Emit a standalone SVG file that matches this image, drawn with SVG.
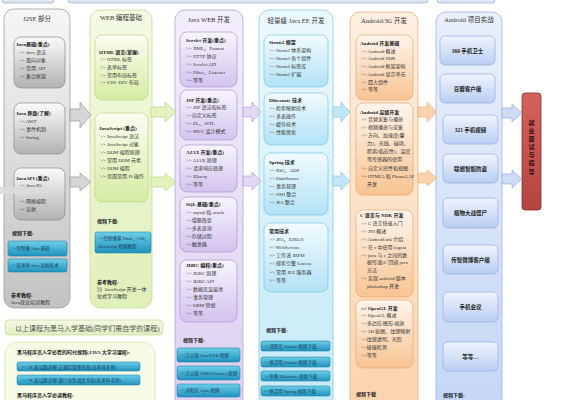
<svg xmlns="http://www.w3.org/2000/svg" width="572" height="400" viewBox="0 0 572 400">
<style>
text{font-family:"Liberation Serif","Noto Sans CJK SC",serif;font-size:5px;fill:#333}
.h{font-weight:bold;fill:#1a1a1a}
.ti{font-size:6.5px;fill:#333;text-anchor:middle}
.bt{font-size:4.6px;fill:#163a58}
.pj{font-size:5.5px;font-weight:bold;fill:#222;text-anchor:middle}
.o{stroke-width:0.8}
.i{stroke-width:0.7}
.btn{fill:url(#gBtn);stroke:#2a7fa8;stroke-width:0.6}
.ar{stroke-width:0.7}
</style>
<defs>
<linearGradient id="gGray" x1="0" y1="0" x2="0" y2="1"><stop offset="0" stop-color="#f6f6f6"/><stop offset="1" stop-color="#c2c2c2"/></linearGradient>
<linearGradient id="gGrayIn" x1="0" y1="0" x2="0" y2="1"><stop offset="0" stop-color="#fbfbfb"/><stop offset="1" stop-color="#b2b2b2"/></linearGradient>
<linearGradient id="gGreen" x1="0" y1="0" x2="0" y2="1"><stop offset="0" stop-color="#f4fae4"/><stop offset="1" stop-color="#e0f0ba"/></linearGradient>
<linearGradient id="gGreenIn" x1="0" y1="0" x2="0" y2="1"><stop offset="0" stop-color="#fbfdf1"/><stop offset="1" stop-color="#d6eca4"/></linearGradient>
<linearGradient id="gPurple" x1="0" y1="0" x2="0" y2="1"><stop offset="0" stop-color="#f3eefb"/><stop offset="1" stop-color="#dcd0f0"/></linearGradient>
<linearGradient id="gPurpleIn" x1="0" y1="0" x2="0" y2="1"><stop offset="0" stop-color="#f8f5fd"/><stop offset="1" stop-color="#d2c3ee"/></linearGradient>
<linearGradient id="gCyan" x1="0" y1="0" x2="0" y2="1"><stop offset="0" stop-color="#ecf9fd"/><stop offset="1" stop-color="#c4eaf8"/></linearGradient>
<linearGradient id="gCyanIn" x1="0" y1="0" x2="0" y2="1"><stop offset="0" stop-color="#f2fbff"/><stop offset="1" stop-color="#b2e2f5"/></linearGradient>
<linearGradient id="gOrange" x1="0" y1="0" x2="0" y2="1"><stop offset="0" stop-color="#fdefe0"/><stop offset="1" stop-color="#fbd3aa"/></linearGradient>
<linearGradient id="gOrangeIn" x1="0" y1="0" x2="0" y2="1"><stop offset="0" stop-color="#fef5ec"/><stop offset="1" stop-color="#f8c492"/></linearGradient>
<linearGradient id="gBlue" x1="0" y1="0" x2="0" y2="1"><stop offset="0" stop-color="#e9f0fc"/><stop offset="1" stop-color="#c3d6f5"/></linearGradient>
<linearGradient id="gBlueIn" x1="0" y1="0" x2="0" y2="1"><stop offset="0" stop-color="#f0f5fd"/><stop offset="1" stop-color="#b9cdf2"/></linearGradient>
<linearGradient id="gBtn" x1="0" y1="0" x2="0" y2="1"><stop offset="0" stop-color="#6ccfea"/><stop offset="1" stop-color="#1f93bd"/></linearGradient>
<linearGradient id="gRed" x1="0" y1="0" x2="0" y2="1"><stop offset="0" stop-color="#d4625c"/><stop offset="1" stop-color="#b4443f"/></linearGradient>
<linearGradient id="gLime" x1="0" y1="0" x2="0" y2="1"><stop offset="0" stop-color="#f4fae4"/><stop offset="1" stop-color="#e0efbe"/></linearGradient>
</defs>

<g id="top-strip">
<rect x="2" y="-8" width="52" height="11" rx="3" fill="#dde7f5" stroke="#8a9bb0" stroke-width="0.6"/>
<rect x="68" y="-8" width="360" height="11" rx="3" fill="#dde7f5" stroke="#8a9bb0" stroke-width="0.6"/>
<rect x="437" y="-8" width="58" height="11" rx="3" fill="#dde7f5" stroke="#8a9bb0" stroke-width="0.6"/>
</g>

<g id="j2se">
<rect class="o" x="4" y="9" width="66" height="299" rx="10" fill="url(#gGray)" stroke="#a0a0a0"/>
<text class="ti" x="37" y="21">J2SE 部分</text>
<rect class="i" x="14" y="37" width="51" height="51" rx="7" fill="url(#gGrayIn)" stroke="#8a8a8a"/>
<text class="h" x="16" y="46">Java基础(重点)</text>
<text x="19" y="54">&gt;&gt; Java 语法</text>
<text x="19" y="62">&gt;&gt; 面向对象</text>
<text x="19" y="70">&gt;&gt; 常用 API</text>
<text x="19" y="78">&gt;&gt; 集合框架</text>
<rect class="i" x="14" y="103" width="51" height="51" rx="7" fill="url(#gGrayIn)" stroke="#8a8a8a"/>
<text class="h" x="16" y="115">Java 界面(了解)</text>
<text x="19" y="123">&gt;&gt; AWT</text>
<text x="19" y="131">&gt;&gt; 事件机制</text>
<text x="19" y="139">&gt;&gt; Swing</text>
<rect class="i" x="14" y="168" width="51" height="52" rx="7" fill="url(#gGrayIn)" stroke="#8a8a8a"/>
<text class="h" x="16" y="180">JavaAPI (重点)</text>
<text x="19" y="187">&gt;&gt; Java IO</text>
<text x="19" y="203">&gt;&gt; 网络编程</text>
<text x="19" y="211">&gt;&gt; 反射</text>
<rect x="0" y="187" width="54" height="7" fill="#dcdcdc" opacity="0.9"/>
<text class="h" x="12" y="235">视频下载:</text>
<rect class="btn" x="8" y="241" width="59" height="15" rx="2"/>
<text class="bt" x="11" y="250">&gt;&gt;传智播 Java 基础</text>
<rect class="btn" x="8" y="259" width="59" height="13" rx="2"/>
<text class="bt" x="11" y="267">&gt;&gt;张孝祥 Java 高新技术</text>
<text class="h" x="11" y="297">参考教程:</text>
<text x="11" y="304">Java就业培训教程</text>
</g>

<g id="web">
<rect class="o" x="90" y="10" width="62" height="298" rx="10" fill="url(#gGreen)" stroke="#c6da98"/>
<text class="ti" x="121" y="20">WEB 编程基础</text>
<rect class="i" x="95" y="35" width="53" height="65" rx="7" fill="url(#gGreenIn)" stroke="#bcd68a"/>
<text class="h" x="99" y="54">HTML 语言(掌握)</text>
<text x="100" y="61">&gt;&gt; HTML 标签</text>
<text x="100" y="69">&gt;&gt; 表单标签</text>
<text x="100" y="77">&gt;&gt; 常用布局标签</text>
<text x="100" y="84">&gt;&gt; CSS+DIV 布局</text>
<rect class="i" x="95" y="113" width="53" height="89" rx="7" fill="url(#gGreenIn)" stroke="#bcd68a"/>
<text class="h" x="99" y="130">JavaScript (重点)</text>
<text x="100" y="138">&gt;&gt; JavaScript 语法</text>
<text x="100" y="146">&gt;&gt; JavaScript 对象</text>
<text x="100" y="154">&gt;&gt; DOM 编程原理</text>
<text x="100" y="162">&gt;&gt; 常用 DOM 元素</text>
<text x="100" y="170">&gt;&gt; DOM 编程</text>
<text x="100" y="178">&gt;&gt; 页面常用 JS 操作</text>
<text class="h" x="97" y="223">视频下载:</text>
<rect class="btn" x="95" y="232" width="56" height="21" rx="2"/>
<text class="bt" x="98" y="240">&gt;&gt;传智播客 Html、CSS、</text>
<text class="bt" x="98" y="248">JavaScript 视频教程</text>
<text class="h" x="97" y="284">参考教程:</text>
<text x="97" y="291">》》JavaScript 开发一体</text>
<text x="97" y="298">化式学习教程</text>
</g>

<g id="javaweb">
<rect class="o" x="175" y="10" width="68" height="410" rx="10" fill="url(#gPurple)" stroke="#b6a6d8"/>
<text class="ti" x="209" y="22">Java WEB 开发</text>
<rect class="i" x="180" y="32" width="57" height="55" rx="7" fill="url(#gPurpleIn)" stroke="#a898d0"/>
<text class="h" x="186" y="42">Servlet 开发(重点)</text>
<text x="186" y="50">&gt;&gt; XML、Tomcat</text>
<text x="186" y="58">&gt;&gt; HTTP 协议</text>
<text x="186" y="66">&gt;&gt; Servlet API</text>
<text x="186" y="74">&gt;&gt; Filter、Listener</text>
<text x="186" y="82">&gt;&gt; 等等</text>
<rect class="i" x="180" y="90" width="57" height="50" rx="7" fill="url(#gPurpleIn)" stroke="#a898d0"/>
<text class="h" x="186" y="102">JSP 开发(重点)</text>
<text x="186" y="109">&gt;&gt; JSP 语法和标签</text>
<text x="186" y="117">&gt;&gt;自定义标签</text>
<text x="186" y="125">&gt;&gt; EL、JSTL</text>
<text x="186" y="133">&gt;&gt; MVC 设计模式</text>
<rect class="i" x="180" y="145" width="57" height="47" rx="7" fill="url(#gPurpleIn)" stroke="#a898d0"/>
<text class="h" x="186" y="154">AJAX 开发(重点)</text>
<text x="186" y="162">&gt;&gt; AJAX 原理</text>
<text x="186" y="170">&gt;&gt; 请求响应处理</text>
<text x="186" y="178">&gt;&gt; JQuery</text>
<text x="186" y="186">&gt;&gt; 等等</text>
<rect class="i" x="180" y="197" width="57" height="55" rx="7" fill="url(#gPurpleIn)" stroke="#a898d0"/>
<text class="h" x="186" y="206">SQL 基础(重点)</text>
<text x="186" y="214">&gt;&gt; mysql 和 oracle</text>
<text x="186" y="222">&gt;&gt;增删改查</text>
<text x="186" y="230">&gt;&gt;多表查询</text>
<text x="186" y="238">&gt;&gt;存储过程</text>
<text x="186" y="246">&gt;&gt;触发器</text>
<rect class="i" x="180" y="260" width="57" height="62" rx="7" fill="url(#gPurpleIn)" stroke="#a898d0"/>
<text class="h" x="186" y="267">JDBC 编程(重点)</text>
<text x="186" y="275">&gt;&gt; JDBC 原理</text>
<text x="186" y="283">&gt;&gt; JDBC API</text>
<text x="186" y="291">&gt;&gt; 数据库连接池</text>
<text x="186" y="299">&gt;&gt; 事务管理</text>
<text x="186" y="307">&gt;&gt; ORM 思想</text>
<text x="186" y="315">&gt;&gt; 等等</text>
<text class="h" x="183" y="342">视频下载:</text>
<rect class="btn" x="177" y="348" width="63" height="14" rx="2"/>
<text class="bt" x="180" y="357">&gt;&gt;方立勋 JavaWEB 视频</text>
<rect class="btn" x="177" y="366" width="63" height="14" rx="2"/>
<text class="bt" x="180" y="375">&gt;&gt;方立勋 JDBC(Oracle) 视频</text>
<rect class="btn" x="177" y="384" width="63" height="13" rx="2"/>
<text class="bt" x="180" y="392">&gt;&gt;汤阳光 Ajax 视频</text>
</g>

<g id="javaee">
<rect class="o" x="259" y="10" width="74" height="410" rx="10" fill="url(#gCyan)" stroke="#88cde6"/>
<text class="ti" x="296" y="23">轻量级 Java EE 开发</text>
<rect class="i" x="264" y="35" width="64" height="52" rx="7" fill="url(#gCyanIn)" stroke="#7cc4e2"/>
<text class="h" x="269" y="44">Struts2 框架</text>
<text x="269" y="52">&gt;&gt; Struts2 体系架构</text>
<text x="269" y="60">&gt;&gt; Struts2 各个组件</text>
<text x="269" y="68">&gt;&gt; Struts2 标签库</text>
<text x="269" y="76">&gt;&gt; Struts2 扩展</text>
<rect class="i" x="264" y="93" width="64" height="52" rx="7" fill="url(#gCyanIn)" stroke="#7cc4e2"/>
<text class="h" x="269" y="102">Hibernate 技术</text>
<text x="269" y="110">&gt;&gt; 检索映射技术</text>
<text x="269" y="118">&gt;&gt; 多表操作</text>
<text x="269" y="126">&gt;&gt; 缓存技术</text>
<text x="269" y="134">&gt;&gt; 性能优化</text>
<rect class="i" x="264" y="153" width="64" height="62" rx="7" fill="url(#gCyanIn)" stroke="#7cc4e2"/>
<text class="h" x="269" y="164">Spring 技术</text>
<text x="269" y="172">&gt;&gt; IOC、AOP</text>
<text x="269" y="180">&gt;&gt; DataSource</text>
<text x="269" y="188">&gt;&gt; 事务管理</text>
<text x="269" y="196">&gt;&gt; SSH 整合</text>
<text x="269" y="204">&gt;&gt; JPA 整合</text>
<rect class="i" x="264" y="223" width="64" height="69" rx="7" fill="url(#gCyanIn)" stroke="#7cc4e2"/>
<text class="h" x="269" y="233">常用技术</text>
<text x="269" y="241">&gt;&gt; JPA、EJB3.0</text>
<text x="269" y="249">&gt;&gt; WebService</text>
<text x="269" y="257">&gt;&gt; 工作流 JBPM</text>
<text x="269" y="265">&gt;&gt; 搜索引擎 Lucene</text>
<text x="269" y="274">&gt;&gt; 常用 JEE 服务器</text>
<text x="269" y="282">&gt;&gt; 等等</text>
<text class="h" x="266" y="332">视频下载:</text>
<rect class="btn" x="261" y="341" width="69" height="10" rx="2"/>
<text class="bt" x="264" y="348">&gt;&gt;汤阳光 Struts2 视频下载</text>
<rect class="btn" x="261" y="357" width="69" height="10" rx="2"/>
<text class="bt" x="264" y="364">&gt;&gt;黎活明 Struts2 视频下载</text>
<rect class="btn" x="261" y="371" width="69" height="10" rx="2"/>
<text class="bt" x="264" y="378">&gt;&gt;李勇 Hibernate 视频下载</text>
<rect class="btn" x="261" y="386" width="69" height="10" rx="2"/>
<text class="bt" x="264" y="393">&gt;&gt;黎活明 Spring 视频下载</text>
</g>

<g id="android">
<rect class="o" x="350" y="12" width="68" height="408" rx="10" fill="url(#gOrange)" stroke="#eeb07e"/>
<text class="ti" x="384" y="23">Android/3G 开发</text>
<rect class="i" x="356" y="35" width="57" height="65" rx="7" fill="url(#gOrangeIn)" stroke="#e8a66e"/>
<text class="h" x="360" y="45">Android 开发基础</text>
<text x="361" y="53">&gt;&gt; Android 概述</text>
<text x="361" y="60">&gt;&gt; Android SDK</text>
<text x="361" y="68">&gt;&gt; Android 框架架构</text>
<text x="361" y="76">&gt;&gt; Android 显示单元</text>
<text x="361" y="84">&gt;&gt; 四大组件</text>
<text x="361" y="91">&gt;&gt; 等等</text>
<rect class="i" x="356" y="103" width="57" height="92" rx="7" fill="url(#gOrangeIn)" stroke="#e8a66e"/>
<text class="h" x="360" y="114">Android 高级开发</text>
<text x="361" y="121">&gt;&gt; 音频采集与播放</text>
<text x="361" y="129">&gt;&gt; 视频播放与采集</text>
<text x="361" y="137">&gt;&gt; 方向、加速度(重</text>
<text x="367" y="145">力)、光线、磁场、</text>
<text x="367" y="153">距离(临近性)、温度</text>
<text x="367" y="161">等传感器的使用</text>
<text x="361" y="170">&gt;&gt; 自定义控件和视图</text>
<text x="361" y="178">&gt;&gt; HTML5 和 PhoneGAP</text>
<text x="367" y="186">开发</text>
<rect class="i" x="356" y="210" width="57" height="87" rx="7" fill="url(#gOrangeIn)" stroke="#e8a66e"/>
<text class="h" x="360" y="217">C 语言与 NDK 开发</text>
<text x="361" y="225">&gt;&gt; C 语言快速入门</text>
<text x="361" y="233">&gt;&gt; JNI 概述</text>
<text x="361" y="241">&gt;&gt; Android.mk 介绍</text>
<text x="361" y="249">&gt;&gt; 在 c 中使用 logcat</text>
<text x="361" y="257">&gt;&gt; java 与 c 之间的数</text>
<text x="367" y="264">据传递(C 回调 java</text>
<text x="367" y="272">方法</text>
<text x="361" y="280">&gt;&gt; 实现 android 版本</text>
<text x="367" y="288">photoshop 开发</text>
<rect class="i" x="356" y="300" width="57" height="68" rx="7" fill="url(#gOrangeIn)" stroke="#e8a66e"/>
<text class="h" x="361" y="310">&gt;&gt; OpenGL 开发</text>
<text x="361" y="317">&gt;&gt; OpenGL 概述</text>
<text x="361" y="325">&gt;&gt;多边形\图形\缩放</text>
<text x="361" y="333">&gt;&gt; 3D 贴图、纹理映射</text>
<text x="361" y="341">&gt;&gt;纹理透明、光照</text>
<text x="361" y="349">&gt;&gt;碰撞检测</text>
<text x="361" y="357">&gt;&gt;等等</text>
<text class="h" x="356" y="396">视频下载</text>
</g>

<g id="projects">
<rect class="o" x="436" y="12" width="66" height="408" rx="10" fill="url(#gBlue)" stroke="#9db6e6"/>
<text class="ti" x="469" y="22">Android 项目实战</text>
<g id="p1"><rect class="i" x="440" y="36" width="55" height="29" rx="5" fill="url(#gBlueIn)" stroke="#93acdc"/><text class="pj" x="467.5" y="53">360 手机卫士</text></g>
<g id="p2"><rect class="i" x="440" y="74" width="55" height="29" rx="5" fill="url(#gBlueIn)" stroke="#93acdc"/><text class="pj" x="467.5" y="91">豆瓣客户端</text></g>
<g id="p3"><rect class="i" x="443" y="115" width="55" height="29" rx="5" fill="url(#gBlueIn)" stroke="#93acdc"/><text class="pj" x="470.5" y="132">321 手机视频</text></g>
<g id="p4"><rect class="i" x="443" y="154" width="55" height="29" rx="5" fill="url(#gBlueIn)" stroke="#93acdc"/><text class="pj" x="470.5" y="171">联想智能防盗</text></g>
<g id="p5"><rect class="i" x="443" y="198" width="55" height="30" rx="5" fill="url(#gBlueIn)" stroke="#93acdc"/><text class="pj" x="470.5" y="215">植物大战僵尸</text></g>
<g id="p6"><rect class="i" x="443" y="245" width="55" height="29" rx="5" fill="url(#gBlueIn)" stroke="#93acdc"/><text class="pj" x="470.5" y="262">传智微博客户端</text></g>
<g id="p7"><rect class="i" x="443" y="292" width="55" height="30" rx="5" fill="url(#gBlueIn)" stroke="#93acdc"/><text class="pj" x="470.5" y="309">手机会议</text></g>
<g id="p8"><rect class="i" x="443" y="342" width="55" height="29" rx="5" fill="url(#gBlueIn)" stroke="#93acdc"/><text class="pj" x="470.5" y="359">等等…</text></g>
<text class="h" x="443" y="397">视频下载:</text>
</g>

<g id="career">
<rect x="522" y="93" width="19" height="117" rx="3" fill="url(#gRed)" stroke="#8a2e2a" stroke-width="0.8"/>
<g font-weight="bold" text-anchor="middle">
<text x="531.5" y="125" style="font-size:6px;fill:#2a0e0c">就</text>
<text x="531.5" y="133" style="font-size:6px;fill:#2a0e0c">业</text>
<text x="531.5" y="141" style="font-size:6px;fill:#2a0e0c">面</text>
<text x="531.5" y="149" style="font-size:6px;fill:#2a0e0c">试</text>
<text x="531.5" y="157" style="font-size:6px;fill:#2a0e0c">与</text>
<text x="531.5" y="165" style="font-size:6px;fill:#2a0e0c">指</text>
<text x="531.5" y="174" style="font-size:6px;fill:#2a0e0c">导</text>
</g>
</g>

<g id="basics-note">
<rect x="5" y="320" width="158" height="15" rx="4" fill="url(#gLime)" stroke="#c6da98" stroke-width="0.7"/>
<text x="15" y="330.5" style="font-size:7px;fill:#555">以上课程为黑马入学基础(同学们需自学的课程)</text>
</g>

<g id="entry">
<rect x="5" y="342" width="150" height="75" rx="12" fill="#f6fbe6" stroke="#d4e6ae" stroke-width="0.8"/>
<text class="h" x="17" y="354">黑马程序员入学必看的时代视频(JAVA 大学习课程):</text>
<rect class="btn" x="17" y="362" width="123" height="9" rx="2"/>
<text class="bt" x="21" y="368.5">&gt;&gt; 7K 面试题讲解:交通灯管理系统(张孝祥老师)</text>
<rect class="btn" x="17" y="375" width="123" height="10" rx="2"/>
<text class="bt" x="21" y="382">&gt;&gt; 7K 面试题讲解:银行业务调度系统(张孝祥老师)</text>
<text class="h" x="17" y="397">黑马程序员入学必读教程:</text>
</g>

<g id="connectors">
<path class="ar" d="M70,109 H80 V102 L91,115 L80,128 V121 H70 Z" fill="#d6d6d6" stroke="#9a9a9a"/>
<path class="ar" d="M70,177 H80 V173 L91,182 L80,191 V187 H70 Z" fill="#d6d6d6" stroke="#9a9a9a"/>
<path class="ar" d="M151,107 H165 V102 L176,112 L165,122 V117 H151 Z" fill="#e2f3bd" stroke="#b6d68c"/>
<path class="ar" d="M151,177 H165 V173 L176,182 L165,191 V187 H151 Z" fill="#e2f3bd" stroke="#b6d68c"/>
<path class="ar" d="M243,107 H252 V102 L261,112 L252,122 V117 H243 Z" fill="#e2d8f4" stroke="#b2a2d8"/>
<path class="ar" d="M243,176 H252 V172 L261,181 L252,190 V186 H243 Z" fill="#e2d8f4" stroke="#b2a2d8"/>
<path class="ar" d="M333,107 H341 V102 L350,112 L341,122 V117 H333 Z" fill="#c2e7f8" stroke="#86c6e6"/>
<path class="ar" d="M333,176 H341 V172 L350,181 L341,190 V186 H333 Z" fill="#c2e7f8" stroke="#86c6e6"/>
<path class="ar" d="M418,107 H427 V102 L437,112 L427,122 V117 H418 Z" fill="#fbd2ae" stroke="#eeae7e"/>
<path class="ar" d="M418,173 H427 V170 L437,178 L427,186 V183 H418 Z" fill="#fbd2ae" stroke="#eeae7e"/>
<path class="ar" d="M502,108 H512 V104 L522,113 L512,122 V118 H502 Z" fill="#d0dcf4" stroke="#98aee0"/>
<path class="ar" d="M502,174 H512 V170 L522,179 L512,188 V184 H502 Z" fill="#d0dcf4" stroke="#98aee0"/>
</g>
</svg>
